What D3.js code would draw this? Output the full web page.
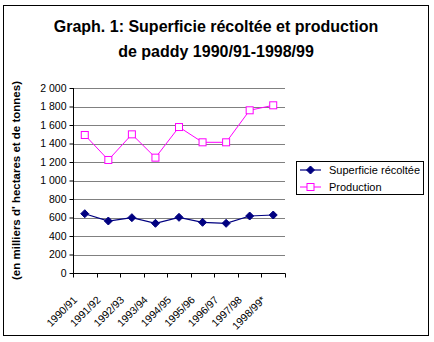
<!DOCTYPE html>
<html><head><meta charset="utf-8">
<script src="https://cdn.jsdelivr.net/npm/d3@7"></script>
<style>body{margin:0;background:#fff}svg{display:block}text{font-family:"Liberation Sans",Arial,sans-serif}</style>
</head><body>
<script>
const categories = ["1990/91","1991/92","1992/93","1993/94","1994/95","1995/96","1996/97","1997/98","1998/99*"];
const superficie = [641, 562, 598, 537, 602, 548, 537, 616, 627];
const production = [1492, 1222, 1499, 1247, 1578, 1413, 1413, 1759, 1813];
const yTicks = [0,200,400,600,800,1000,1200,1400,1600,1800,2000];
const seriesNames = ["Superficie récoltée","Production"];

const W=434,H=342;
const svg=d3.select("body").append("svg").attr("width",W).attr("height",H);
svg.append("rect").attr("x",3.5).attr("y",5.5).attr("width",425).attr("height",330).attr("fill","#fff").attr("stroke","#000").attr("stroke-width",1);

const title=svg.append("text").attr("text-anchor","middle").attr("font-size",16).attr("font-weight","bold");
title.append("tspan").attr("x",216).attr("y",32).text("Graph. 1: Superficie récoltée et production");
title.append("tspan").attr("x",216).attr("y",57).text("de paddy 1990/91-1998/99");

const x0=73,x1=285,yTop=88,yBot=273;
const x=d3.scaleBand().domain(categories).range([x0,x1]);
const y=d3.scaleLinear().domain([0,2000]).range([yBot,yTop]);

// gridlines
svg.append("g").selectAll("line").data(yTicks.filter(d=>d>0)).join("line")
 .attr("x1",x0).attr("x2",x1).attr("y1",d=>Math.round(y(d))+0.5).attr("y2",d=>Math.round(y(d))+0.5)
 .attr("stroke","#808080").attr("stroke-width",1);

// y axis
const fmt=d=>d>=1000?d3.format(",")(d).replace(",", " "):String(d);
const ya=svg.append("g").attr("transform",`translate(${x0+0.5},0)`)
 .call(d3.axisLeft(y).tickValues(yTicks).tickFormat(fmt).tickSize(4).tickPadding(3));
ya.selectAll("text").attr("font-size",10.5).attr("font-family","Liberation Sans, Arial, sans-serif").attr("fill","#000");
ya.select(".domain").attr("d",`M0,${yTop}V${yBot}`);

// x axis
const xa=svg.append("g").attr("transform",`translate(0,${yBot+0.5})`);
xa.append("line").attr("x1",x0).attr("x2",x1+0.5).attr("y1",0).attr("y2",0).attr("stroke","#000");
const bounds=categories.map(c=>x(c)).concat([x1]);
xa.selectAll("line.tk").data(bounds).join("line").attr("class","tk")
 .attr("x1",d=>Math.round(d)+0.5).attr("x2",d=>Math.round(d)+0.5).attr("y1",0).attr("y2",4).attr("stroke","#000");
xa.selectAll("text").data(categories).join("text")
 .attr("font-size",10.5).attr("text-anchor","end")
 .attr("transform",d=>`translate(${x(d)+x.bandwidth()/2-7},${27}) rotate(-45)`)
 .text(d=>d);

// y label
svg.append("text").attr("transform",`translate(20,${(yTop+yBot)/2}) rotate(-90)`)
 .attr("text-anchor","middle").attr("font-size",11.5).attr("font-weight","bold")
 .text("(en milliers d' hectares et de tonnes)");

const cx=d=>x(d)+x.bandwidth()/2;
const line=d3.line().x((d,i)=>cx(categories[i])).y(d=>y(d));
svg.append("path").datum(superficie).attr("d",line).attr("fill","none").attr("stroke","#000080").attr("stroke-width",1.2);
svg.append("path").datum(production).attr("d",line).attr("fill","none").attr("stroke","#FF00FF").attr("stroke-width",1);

const diamond=(px,py,r)=>`M${px},${py-r}L${px+r},${py}L${px},${py+r}L${px-r},${py}Z`;
svg.append("g").selectAll("path").data(superficie).join("path")
 .attr("d",(d,i)=>diamond(cx(categories[i]),y(d),4)).attr("fill","#000080").attr("stroke","#000080");
svg.append("g").selectAll("rect").data(production).join("rect")
 .attr("x",(d,i)=>cx(categories[i])-3.5).attr("y",d=>y(d)-3.5).attr("width",7).attr("height",7)
 .attr("fill","#fff").attr("stroke","#FF00FF").attr("stroke-width",1);

// legend
const lg=svg.append("g");
lg.append("rect").attr("x",296.5).attr("y",161.5).attr("width",127).attr("height",33).attr("fill","#fff").attr("stroke","#000");
const rows=[{c:"#000080",t:"diamond"},{c:"#FF00FF",t:"square"}];
rows.forEach((r,i)=>{
  const yy=170+i*17;
  lg.append("line").attr("x1",300).attr("x2",321).attr("y1",yy).attr("y2",yy).attr("stroke",r.c).attr("stroke-width",r.t==="diamond"?1.2:1);
  if(r.t==="diamond") lg.append("path").attr("d",diamond(310.5,yy,4)).attr("fill",r.c).attr("stroke",r.c);
  else lg.append("rect").attr("x",307).attr("y",yy-3.5).attr("width",7).attr("height",7).attr("fill","#fff").attr("stroke",r.c);
  lg.append("text").attr("x",329).attr("y",yy+4).attr("font-size",11).text(seriesNames[i]);
});
</script>
</body></html>
